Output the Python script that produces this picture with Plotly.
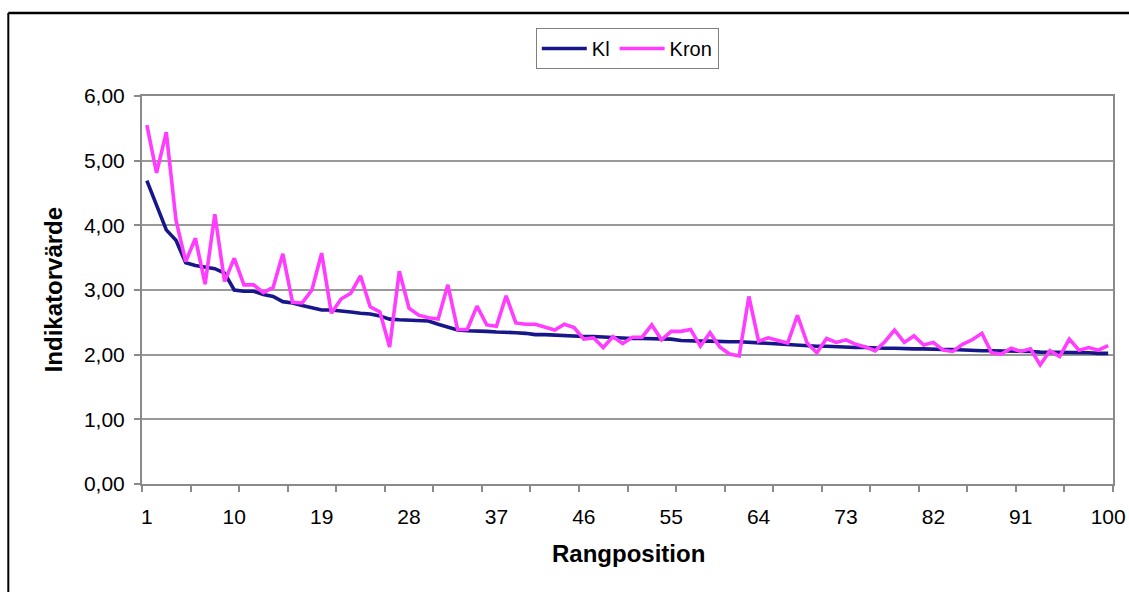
import plotly.graph_objects as go

rang = list(range(1, 101))

kl = [4.69, 4.30, 3.93, 3.77, 3.42, 3.38, 3.36, 3.33, 3.26, 3.00,
      2.98, 2.98, 2.93, 2.90, 2.82, 2.80, 2.76, 2.73, 2.69, 2.69,
      2.68, 2.66, 2.64, 2.63, 2.60, 2.55, 2.54, 2.53, 2.53, 2.52,
      2.47, 2.43, 2.38, 2.37, 2.37, 2.36, 2.35, 2.35, 2.34, 2.33,
      2.31, 2.31, 2.30, 2.29, 2.29, 2.28, 2.28, 2.27, 2.26, 2.26,
      2.25, 2.25, 2.25, 2.24, 2.24, 2.22, 2.21, 2.21, 2.21, 2.20,
      2.20, 2.20, 2.19, 2.19, 2.18, 2.16, 2.15, 2.15, 2.14, 2.13,
      2.13, 2.12, 2.12, 2.11, 2.11, 2.10, 2.10, 2.10, 2.09, 2.09,
      2.09, 2.08, 2.08, 2.08, 2.07, 2.07, 2.06, 2.06, 2.06, 2.05,
      2.05, 2.05, 2.04, 2.04, 2.04, 2.03, 2.03, 2.03, 2.02, 2.02]

kron = [5.55, 4.81, 5.44, 4.08, 3.44, 3.80, 3.09, 4.17, 3.13, 3.49,
        3.08, 3.08, 2.96, 3.04, 3.56, 2.81, 2.80, 3.00, 3.57, 2.64,
        2.86, 2.95, 3.22, 2.74, 2.66, 2.12, 3.29, 2.72, 2.61, 2.57,
        2.55, 3.08, 2.39, 2.39, 2.75, 2.46, 2.44, 2.91, 2.49, 2.47,
        2.47, 2.42, 2.38, 2.47, 2.42, 2.24, 2.26, 2.11, 2.28, 2.17,
        2.27, 2.27, 2.46, 2.23, 2.36, 2.36, 2.39, 2.13, 2.34, 2.12,
        2.01, 1.98, 2.90, 2.21, 2.26, 2.22, 2.18, 2.61, 2.18, 2.03,
        2.25, 2.19, 2.23, 2.16, 2.12, 2.06, 2.20, 2.38, 2.19, 2.29,
        2.15, 2.19, 2.07, 2.05, 2.16, 2.23, 2.33, 2.03, 2.01, 2.10,
        2.05, 2.09, 1.84, 2.06, 1.97, 2.24, 2.07, 2.11, 2.07, 2.14]

x_tickvals = [1, 10, 19, 28, 37, 46, 55, 64, 73, 82, 91, 100]
y_tickvals = [0, 1, 2, 3, 4, 5, 6]
y_ticktext = ["0,00", "1,00", "2,00", "3,00", "4,00", "5,00", "6,00"]

FONT = "Liberation Sans, Arial, sans-serif"

# plot-area pixel geometry
L, R, T, B = 141.7, 1112.7, 96.0, 484.0
W, H = 1129, 592
pw, ph = R - L, B - T


def px(xp):
    return (xp - L) / pw


def py(yp):
    return (B - yp) / ph


fig = go.Figure()
fig.add_trace(go.Scatter(x=rang, y=kl, mode="lines", name="Kl",
                         line=dict(color="#17178A", width=3.6)))
fig.add_trace(go.Scatter(x=rang, y=kron, mode="lines", name="Kron",
                         line=dict(color="#FF3CFF", width=3.6)))

fig.update_layout(
    width=W, height=H,
    margin=dict(l=L, r=W - R, t=T, b=H - B, autoexpand=False),
    paper_bgcolor="white", plot_bgcolor="white",
    font=dict(family=FONT, size=20, color="black"),
    showlegend=True,
    legend=dict(orientation="h", x=px(627), xanchor="center",
                y=py(28), yanchor="top",
                bordercolor="#808080", borderwidth=1,
                font=dict(family=FONT, size=20, color="black"),
                itemwidth=45, tracegroupgap=0, bgcolor="white"),
    xaxis=dict(range=[0.5, 100.5], tickmode="array", tickvals=x_tickvals,
               ticktext=[str(v) for v in x_tickvals], ticks="",
               showgrid=False, zeroline=False,
               showline=True, linecolor="#8a8a8a", linewidth=2, mirror=True,
               tickfont=dict(family=FONT, size=21, color="black"),
               ticklabelstandoff=13,
               minor=dict(tick0=0.5, dtick=5, ticks="outside", ticklen=6,
                          tickcolor="#8a8a8a", tickwidth=1.5, showgrid=False)),
    yaxis=dict(range=[0, 6], tickmode="array", tickvals=y_tickvals,
               ticktext=y_ticktext, ticks="outside", ticklen=6,
               tickcolor="#8a8a8a", tickwidth=1.5,
               showgrid=True, gridcolor="#999999", gridwidth=1.5,
               zeroline=False,
               showline=True, linecolor="#8a8a8a", linewidth=2, mirror=True,
               tickfont=dict(family=FONT, size=21, color="black"),
               ticklabelstandoff=5),
    annotations=[
        dict(text="<b>Rangposition</b>", x=px(628), y=py(553),
             xref="paper", yref="paper", xanchor="center", yanchor="middle",
             showarrow=False, font=dict(family=FONT, size=24, color="black")),
        dict(text="<b>Indikatorvärde</b>", x=px(53), y=py(290),
             xref="paper", yref="paper", xanchor="center", yanchor="middle",
             textangle=-90, showarrow=False,
             font=dict(family=FONT, size=24, color="black")),
    ],
    shapes=[
        dict(type="line", xref="paper", yref="paper",
             x0=px(8), x1=px(1140), y0=py(13), y1=py(13),
             line=dict(color="black", width=2.5)),
        dict(type="line", xref="paper", yref="paper",
             x0=px(8), x1=px(8), y0=py(13), y1=py(600),
             line=dict(color="black", width=2)),
    ],
)

fig.write_html("out.html")
